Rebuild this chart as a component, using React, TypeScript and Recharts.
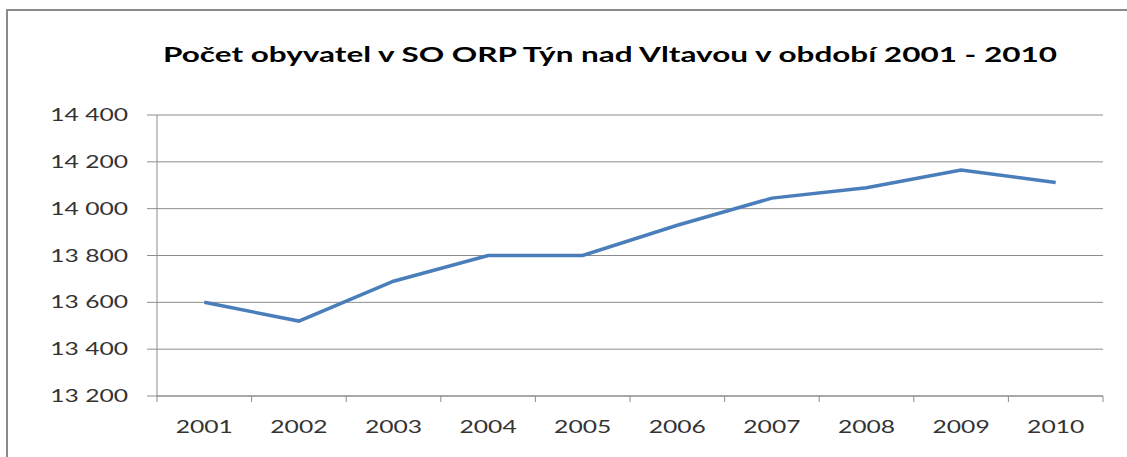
import { CartesianGrid, Line, LineChart, XAxis, YAxis } from "recharts";

const years = [2001, 2002, 2003, 2004, 2005, 2006, 2007, 2008, 2009, 2010];
const population = [13600, 13520, 13690, 13800, 13800, 13929, 14045, 14089, 14165, 14112];
const yTicks = [13200, 13400, 13600, 13800, 14000, 14200, 14400];
const title = "Počet obyvatel v SO ORP Týn nad Vltavou v období 2001 - 2010";

const data = years.map((year, i) => ({ year, value: population[i] }));

// year labels sit at category centres, small tick marks at the boundaries
const xTicks = [
  years[0] - 0.5,
  ...years.flatMap((y) => [y, y + 0.5]),
];

const GRID = "#8c8c8c";
const TEXT = "#333333";
const FONT = "Lato, 'Open Sans', sans-serif";
const STRETCH = 1.45;

const fmt = (v: number) => String(v).replace(/\B(?=(\d{3})+(?!\d))/g, " ");

function YTick({ x, y, payload }: any) {
  return (
    <text
      transform={`translate(${x},${y}) scale(${STRETCH},1)`}
      textAnchor="end"
      dy="0.36em"
      fontSize={17}
      fontFamily={FONT}
      fill={TEXT}
    >
      {fmt(payload.value)}
    </text>
  );
}

function XTick({ x, y, payload }: any) {
  const v = payload.value as number;
  if (!Number.isInteger(v)) {
    return <line x1={x} x2={x} y1={y - 6} y2={y} stroke={GRID} strokeWidth={1} />;
  }
  return (
    <text
      transform={`translate(${x},${y + 30.5}) scale(${STRETCH},1)`}
      textAnchor="middle"
      fontSize={17}
      fontFamily={FONT}
      fill={TEXT}
    >
      {v}
    </text>
  );
}

export default function App() {
  return (
    <div
      style={{
        position: "absolute",
        left: 0,
        top: 0,
        width: 1127,
        height: 457,
        overflow: "hidden",
        background: "#fff",
      }}
    >
      <div
        style={{
          position: "absolute",
          left: 6,
          top: 9,
          width: 1130,
          height: 460,
          borderLeft: "2px solid #8a8a8a",
          borderTop: "2px solid #8a8a8a",
        }}
      />
      <svg
        width={1127}
        height={80}
        style={{ position: "absolute", left: 0, top: 0 }}
      >
        <text
          x={163}
          y={62}
          textLength={894}
          lengthAdjust="spacingAndGlyphs"
          fontSize={20}
          fontWeight="bold"
          fontFamily={FONT}
          fill="#000"
        >
          {title}
        </text>
      </svg>
      <div style={{ position: "absolute", left: 0, top: 0 }}>
        <LineChart
          width={1127}
          height={457}
          data={data}
          margin={{ top: 115, right: 24, bottom: 0, left: 0 }}
        >
          <CartesianGrid vertical={false} stroke={GRID} strokeWidth={1} />
          <XAxis
            dataKey="year"
            type="number"
            domain={[years[0] - 0.5, years[years.length - 1] + 0.5]}
            ticks={xTicks}
            interval={0}
            allowDecimals
            height={61}
            tickSize={6}
            tickMargin={0}
            tickLine={false}
            axisLine={{ stroke: GRID, strokeWidth: 1 }}
            tick={<XTick />}
          />
          <YAxis
            domain={[13200, 14400]}
            ticks={yTicks}
            interval={0}
            width={157}
            tickSize={10}
            tickMargin={19}
            axisLine={{ stroke: GRID, strokeWidth: 1 }}
            tickLine={{ stroke: GRID, strokeWidth: 1 }}
            tick={<YTick />}
          />
          <Line
            type="linear"
            dataKey="value"
            stroke="#4a7ebb"
            strokeWidth={3.5}
            dot={false}
            activeDot={false}
            isAnimationActive={false}
          />
        </LineChart>
      </div>
    </div>
  );
}
